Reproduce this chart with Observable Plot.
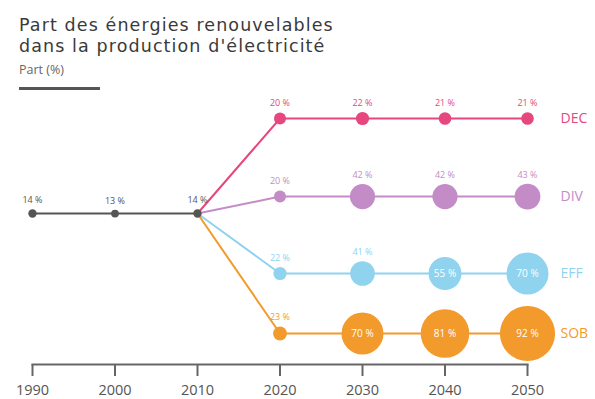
<!DOCTYPE html>
<html>
<head>
<meta charset="utf-8">
<script src="https://cdn.jsdelivr.net/npm/d3@7"></script>
<script src="https://cdn.jsdelivr.net/npm/@observablehq/plot@0.6"></script>
<style>
  html, body { margin: 0; padding: 0; background: #fff; }
  #wrap { position: relative; width: 595px; height: 399px; font-family: "Open Sans", "DejaVu Sans", sans-serif; }
  #title { position: absolute; left: 19px; top: 15px; font-family: "DejaVu Sans", sans-serif; font-size: 17.5px; line-height: 21px; letter-spacing: 1.1px; color: #3a3a3a; }
  #sub { position: absolute; left: 19px; top: 61px; font-size: 12.5px; color: #666; }
  #bar { position: absolute; left: 19px; top: 87px; width: 81px; height: 3px; background: #555; }
  #chart { position: absolute; left: 0; top: 0; }
</style>
</head>
<body>
<div id="wrap">
  <div id="chart"></div>
  <div id="title">Part des énergies renouvelables<br>dans la production d'électricité</div>
  <div id="sub">Part (%)</div>
  <div id="bar"></div>
</div>
<script>
// ---- data ----
const histYears = [1990, 2000, 2010];
const histValues = [14, 13, 14];
const scenYears = [2020, 2030, 2040, 2050];
const scenarios = ["DEC", "DIV", "EFF", "SOB"];
const decValues = [20, 22, 21, 21];
const divValues = [20, 42, 42, 43];
const effValues = [22, 41, 55, 70];
const sobValues = [23, 70, 81, 92];
const tickYears = [1990, 2000, 2010, 2020, 2030, 2040, 2050];

// ---- layout / styling ----
const colors = {HIST: "#555555", DEC: "#e5477e", DIV: "#c48cc6", EFF: "#8fd3ef", SOB: "#f39a2c"};
// vertical lane layout (relative slot, 0 = top lane, 100 = bottom lane)
const laneSlot = {DEC: 0, DIV: 36.3, HIST: 44.2, EFF: 72.1, SOB: 100};
const rOf = v => v * 0.3; // same mapping as the r scale below

// ---- build table ----
const hist = histYears.map((year, i) => ({year, value: histValues[i], series: "HIST", lane: "HIST"}));
const scenValues = {DEC: decValues, DIV: divValues, EFF: effValues, SOB: sobValues};
const scen = scenarios.flatMap(s => scenYears.map((year, i) => ({year, value: scenValues[s][i], series: s, lane: s})));
const lines = scenarios.flatMap(s => [{...hist[hist.length - 1], series: s}, ...scen.filter(d => d.series === s)]);
const points = [...hist, ...scen];
const inside = d => d.value >= 50;
const fmt = d => `${d.value} %`;
const Y = d => laneSlot[d.lane];

const labelMarks = points.filter(d => !inside(d)).map(d =>
  Plot.text([d], {x: "year", y: Y, text: fmt, fill: colors[d.series], fontSize: 9, dy: -(rOf(d.value) + 9), letterSpacing: -0.3})
);

const plot = Plot.plot({
  width: 595,
  height: 399,
  marginLeft: 32,
  marginRight: 68,
  marginTop: 100,
  marginBottom: 35,
  style: {fontFamily: "'Open Sans', 'DejaVu Sans', sans-serif", background: "transparent"},
  x: {type: "linear", domain: [1990, 2050], label: null},
  y: {type: "linear", domain: [0, 100], range: [118, 333], axis: null},
  r: {type: "linear", domain: [0, 100], range: [0, 30]},
  marks: [
    Plot.frame({anchor: "bottom", stroke: "#666", strokeWidth: 2}),
    Plot.axisX({ticks: tickYears, tickFormat: d => String(d), tickSize: 12, tickPadding: 8, fontSize: 14.5, stroke: "#666", strokeWidth: 2, color: "#555", label: null}),
    Plot.line(lines, {x: "year", y: Y, z: "series", stroke: d => colors[d.series], strokeWidth: 2}),
    Plot.line(hist, {x: "year", y: Y, stroke: colors.HIST, strokeWidth: 2}),
    Plot.dot(points, {x: "year", y: Y, r: "value", fill: d => colors[d.series], stroke: null}),
    ...labelMarks,
    Plot.text(points.filter(inside), {x: "year", y: Y, text: fmt, fill: "white", fontSize: 10, letterSpacing: -0.3}),
    Plot.text(scenarios.map(s => ({year: 2050, lane: s, series: s})), {x: "year", y: Y, text: "series", fill: d => colors[d.series], fontSize: 14, dx: 33, textAnchor: "start"})
  ]
});
document.getElementById("chart").appendChild(plot);
</script>
</body>
</html>
